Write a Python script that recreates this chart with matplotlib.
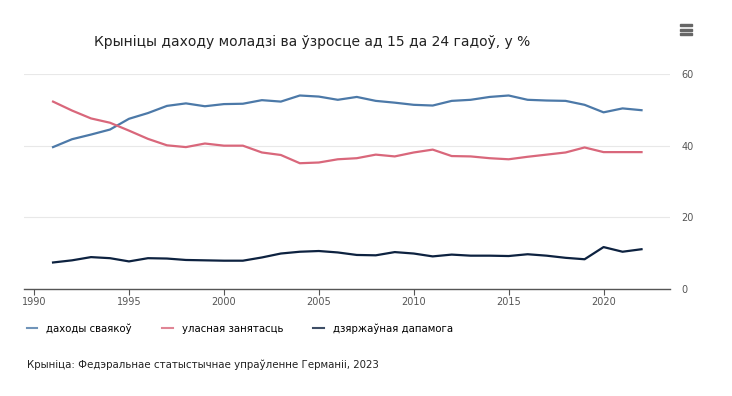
import numpy as np
import matplotlib.pyplot as plt
from matplotlib.patches import Rectangle

years = list(range(1991, 2023))
# даходы сваякоў
relatives = [39.6, 41.8, 43.1, 44.5, 47.5, 49.1, 51.1, 51.8, 51.0, 51.6,
             51.7, 52.7, 52.3, 54.0, 53.7, 52.8, 53.6, 52.5, 52.0, 51.4,
             51.2, 52.5, 52.8, 53.6, 54.0, 52.8, 52.6, 52.5, 51.4, 49.3,
             50.4, 49.9]
# уласная занятасць
own_work = [52.3, 49.8, 47.6, 46.4, 44.2, 41.9, 40.1, 39.6, 40.6, 40.0,
            40.0, 38.1, 37.4, 35.1, 35.3, 36.2, 36.5, 37.5, 37.0, 38.1,
            38.9, 37.1, 37.0, 36.5, 36.2, 36.9, 37.5, 38.1, 39.5, 38.2,
            38.2, 38.2]
# дзяржаўная дапамога
state_aid = [7.4, 8.0, 8.9, 8.6, 7.7, 8.6, 8.5, 8.1, 8.0, 7.9,
             7.9, 8.8, 9.9, 10.4, 10.6, 10.2, 9.5, 9.4, 10.3, 9.9,
             9.1, 9.6, 9.3, 9.3, 9.2, 9.7, 9.3, 8.7, 8.3, 11.7,
             10.4, 11.1]

labels = ['даходы сваякоў', 'уласная занятасць', 'дзяржаўная дапамога']
colors = ['#4c79a8', '#d9677b', '#0d2240']
xticks = [1990, 1995, 2000, 2005, 2010, 2015, 2020]
yticks = [0, 20, 40, 60]

plt.rcParams['font.family'] = ['DejaVu Sans']
fig = plt.figure(figsize=(7.32, 3.96), dpi=100)
ax = fig.add_axes([24/732, 1-289/396, (670-24)/732, (289-74)/396])

for ser, lab, col in zip([relatives, own_work, state_aid], labels, colors):
    ax.plot(years, ser, color=col, lw=1.6, label=lab, clip_on=False)

ax.set_xlim(1989.47, 2023.5)
ax.set_ylim(0, 60)
ax.set_xticks(xticks)
ax.set_yticks(yticks)
ax.yaxis.tick_right()
ax.tick_params(axis='y', length=0, pad=8, labelsize=7, labelcolor='#555555')
ax.tick_params(axis='x', length=4, width=0.8, color='#555555', pad=2,
               labelsize=7, labelcolor='#555555')
ax.grid(axis='y', color='#e8e8e8', lw=0.8)
ax.set_axisbelow(True)
for s in ['top', 'right', 'left']:
    ax.spines[s].set_visible(False)
ax.spines['bottom'].set_color('#555555')
ax.spines['bottom'].set_linewidth(1.0)

fig.text(312/732, 1-42/396, 'Крыніцы даходу моладзі ва ўзросце ад 15 да 24 гадоў, у %',
         ha='center', va='center', fontsize=10, color='#222222')

leg = fig.legend(loc='lower left', bbox_to_anchor=(18/732, 1-343/396), ncol=3,
                 frameon=False, fontsize=7.3, handlelength=1.0, handletextpad=0.9,
                 columnspacing=3.0)
for h in leg.legend_handles:
    h.set_linewidth(1.5)
    h.set_alpha(0.8)

fig.text(27/732, 1-365/396, 'Крыніца: Федэральнае статыстычнае упраўленне Германіі, 2023',
         ha='left', va='center', fontsize=7.4, color='#222222')

# menu icon
for yy in [25, 29.7, 34.3]:
    fig.patches.append(Rectangle((680/732, 1-(yy+1)/396), 12/732, 2/396,
                                 transform=fig.transFigure, color='#666666'))

fig.savefig('out.png', dpi=100)
